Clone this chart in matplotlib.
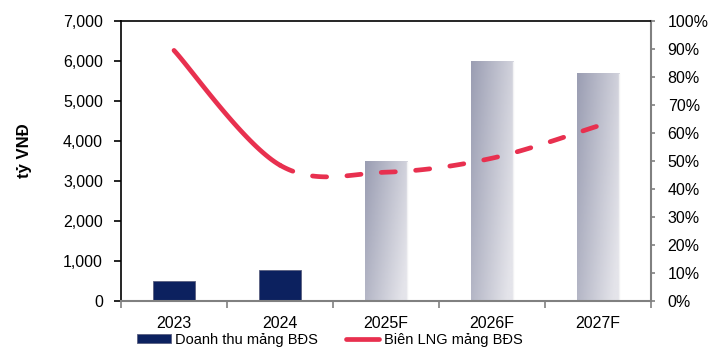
import numpy as np
import matplotlib
matplotlib.use('Agg')
import matplotlib.pyplot as plt
from matplotlib.patches import Patch
from matplotlib.lines import Line2D

plt.rcParams['font.family'] = ['Liberation Sans', 'DejaVu Sans']

years = ['2023', '2024', '2025F', '2026F', '2027F']
revenue = [510, 780, 3480, 5980, 5680]          # ty VND
margin = [89.5, 48.5, 46, 51, 62.5]             # %
n_actual = 2

navy = '#0C215F'
red = '#E8304F'
grey = '#808080'

fig = plt.figure(figsize=(7.11, 3.62), dpi=100)
ax = fig.add_axes([121/711, 1-301/362, 530/711, 280/362])
ax2 = ax.twinx()

x = np.arange(len(years))
bars = ax.bar(x, revenue, width=0.4, color=navy, edgecolor='#5A6080', linewidth=0.6, zorder=2)

# gradient fill for forecast bars
gy, gx = np.mgrid[0:1:60j, 0:1:30j]
t = np.clip(0.75 * gx + 0.35 * gy, 0, 1)
c0 = np.array([0x9B, 0x9E, 0xB3]) / 255
c1 = np.array([0xE4, 0xE4, 0xEA]) / 255
grad = c0[None, None, :] * (1 - t[..., None]) + c1[None, None, :] * t[..., None]
for b in bars[n_actual:]:
    b.set_facecolor('none')
    b.set_edgecolor('none')
    x0, w, h = b.get_x(), b.get_width(), b.get_height()
    ax.imshow(grad, extent=[x0, x0 + w, 0, h], origin='upper', aspect='auto', zorder=1)
    ax.plot([x0 + w, x0 + w], [0, h], color='#F2F2F4', lw=1.0, zorder=2)

ax.set_xlim(-0.5, len(years) - 0.5)
ax.set_ylim(0, 7000)
ax.set_yticks(np.arange(0, 7001, 1000))
ax.set_yticklabels([f'{v:,}' for v in range(0, 7001, 1000)])
ax.set_xticks(x)
ax.set_xticklabels(years)
ax.set_xticks(np.arange(-0.5, len(years), 1), minor=True)
ax.tick_params(axis='x', which='major', length=0, pad=11, labelsize=11.5)
ax.tick_params(axis='x', which='minor', length=5, color=grey, width=1.2, direction='out')
ax.tick_params(axis='y', length=5, width=1.2, color='black', pad=8, labelsize=11.5)

for s in ['left', 'top']:
    ax.spines[s].set_color('black')
    ax.spines[s].set_linewidth(1.2)
for s in ['bottom', 'right']:
    ax.spines[s].set_color(grey)
    ax.spines[s].set_linewidth(1.5)
for s in ax2.spines.values():
    s.set_visible(False)

# smoothed margin line (Catmull-Rom style, like Excel smoothing)
def smooth(xs, ys, i0, i1, k=40):
    xs = np.asarray(xs, float)
    ys = np.asarray(ys, float)
    px, py = [], []
    for i in range(i0, i1):
        p0 = i - 1 if i > 0 else i
        p3 = i + 2 if i + 2 < len(xs) else i + 1
        mx0 = (xs[i + 1] - xs[p0]) / 2
        my0 = (ys[i + 1] - ys[p0]) / 2
        mx1 = (xs[p3] - xs[i]) / 2
        my1 = (ys[p3] - ys[i]) / 2
        tt = np.linspace(0, 1, k)
        h00 = 2*tt**3 - 3*tt**2 + 1
        h10 = tt**3 - 2*tt**2 + tt
        h01 = -2*tt**3 + 3*tt**2
        h11 = tt**3 - tt**2
        px.append(h00*xs[i] + h10*mx0 + h01*xs[i+1] + h11*mx1)
        py.append(h00*ys[i] + h10*my0 + h01*ys[i+1] + h11*my1)
    return np.concatenate(px), np.concatenate(py)

sx, sy = smooth(x, margin, 0, n_actual - 1)
ax2.plot(sx, sy, color=red, lw=3.4, solid_capstyle='round', zorder=3)
dx, dy = smooth(x, margin, n_actual - 1, len(years) - 1)
ax2.plot(dx, dy, color=red, lw=3.4, dashes=(3.0, 4.3), dash_capstyle='round', zorder=3)

ax2.set_ylim(0, 100)
ax2.set_yticks(np.arange(0, 101, 10))
ax2.set_yticklabels([f'{v}%' for v in range(0, 101, 10)])
ax2.tick_params(axis='y', length=3, width=1.2, color=grey, pad=9, labelsize=11.5)

fig.text(25/711, 1-151/362, 'tỷ VNĐ', rotation=90, fontsize=12, fontweight='bold',
         ha='center', va='center')

handles = [Patch(facecolor=navy, edgecolor='#5A6080', linewidth=0.6),
           Line2D([0], [0], color=red, lw=3.4, solid_capstyle='round')]
fig.legend(handles, ['Doanh thu mảng BĐS', 'Biên LNG mảng BĐS'], loc='center',
           bbox_to_anchor=(330/711, 1-340/362), ncol=2, frameon=False, fontsize=10.5,
           handlelength=2.3, handletextpad=0.3, columnspacing=1.9, handleheight=0.6)

fig.savefig('out.png', dpi=100)
